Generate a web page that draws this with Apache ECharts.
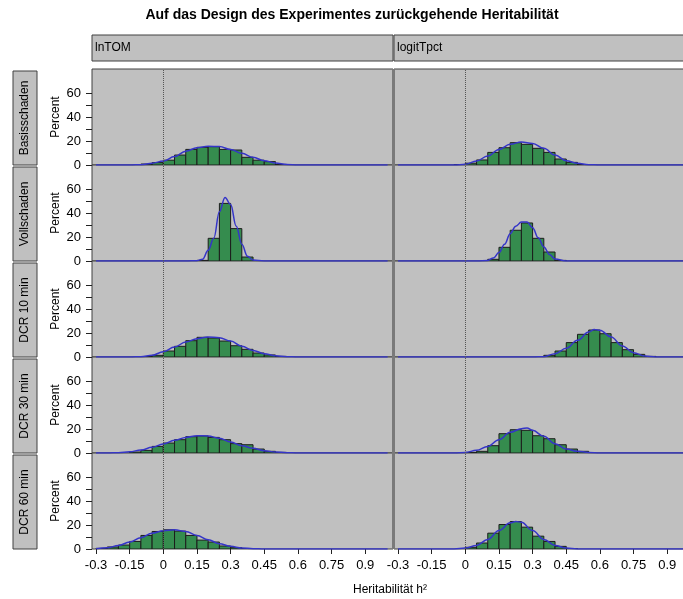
<!DOCTYPE html>
<html>
<head>
<meta charset="utf-8">
<script src="https://cdn.jsdelivr.net/npm/echarts@6/dist/echarts.min.js"></script>
<style>
html, body { margin: 0; padding: 0; background: #fff; }
#main { width: 683px; height: 599px; }
</style>
</head>
<body>
<div id="main"></div>
<script>
var rowNames = ['Basisschaden', 'Vollschaden', 'DCR 10 min', 'DCR 30 min', 'DCR 60 min'];
var colNames = ['lnTOM', 'logitTpct'];
var xTicks = [-0.3, -0.15, 0, 0.15, 0.3, 0.45, 0.6, 0.75, 0.9];
var xLabels = ['-0.3', '-0.15', '0', '0.15', '0.3', '0.45', '0.6', '0.75', '0.9'];
var yTicks = [0, 10, 20, 30, 40, 50, 60];
var yLabels = [0, 20, 40, 60];
var binWidth = 0.05;

// histogram bars: [bin start, percent]
var histBasisLn = [[-0.1,0.8],[-0.05,2],[0,4],[0.05,8.3],[0.1,13],[0.15,14.7],[0.2,15.3],[0.25,13],[0.3,12.5],[0.35,6.4],[0.4,4],[0.45,2.8],[0.5,0.5]];
var histBasisLogit = [[-0.05,0.3],[0,1.5],[0.05,4.2],[0.1,10.5],[0.15,14.4],[0.2,18.6],[0.25,17.2],[0.3,13.9],[0.35,10.5],[0.4,5],[0.45,2.2],[0.5,0.3]];
var histVollLn = [[0.15,0.5],[0.2,18.9],[0.25,48],[0.3,27],[0.35,3.3]];
var histVollLogit = [[0.1,1.4],[0.15,11.4],[0.2,25.6],[0.25,31.7],[0.3,18.9],[0.35,7.5],[0.4,0.5]];
var histDcr10Ln = [[-0.1,0.3],[-0.05,1.4],[0,5],[0.05,8.9],[0.1,13.6],[0.15,16.4],[0.2,15.8],[0.25,13.3],[0.3,9.4],[0.35,6.4],[0.4,3.3],[0.45,1.7],[0.5,0.5]];
var histDcr10Logit = [[0.35,1.4],[0.4,5],[0.45,12],[0.5,18.9],[0.55,22.5],[0.6,19.4],[0.65,12],[0.7,6.1],[0.75,2.2],[0.8,0.5]];
var histDcr30Ln = [[-0.15,0.8],[-0.1,2.2],[-0.05,5.5],[0,8.3],[0.05,11.1],[0.1,13.6],[0.15,14.2],[0.2,13],[0.25,11.1],[0.3,7.8],[0.35,6.9],[0.4,3.3],[0.45,1.4],[0.5,0.5]];
var histDcr30Logit = [[0,0.5],[0.05,1.4],[0.1,6.1],[0.15,16.1],[0.2,19.4],[0.25,18.9],[0.3,14.4],[0.35,11.9],[0.4,6.9],[0.45,3.3],[0.5,1.4]];
var histDcr60Ln = [[-0.3,0.5],[-0.25,1.7],[-0.2,3.3],[-0.15,6.3],[-0.1,11.3],[-0.05,14.6],[0,16],[0.05,14.9],[0.1,11.3],[0.15,7.4],[0.2,5.8],[0.25,2.5],[0.3,1.1],[0.35,0.3]];
var histDcr60Logit = [[0,1.4],[0.05,5],[0.1,13.2],[0.15,20.4],[0.2,22.9],[0.25,18.2],[0.3,10.7],[0.35,6.3],[0.4,2.2],[0.45,0.3]];

// density curves: [x, percent]
var densBasisLn = [[-0.3,0],[-0.15,0],[-0.1,0.3],[-0.05,1.5],[0,3.3],[0.05,7],[0.1,11.5],[0.15,14.4],[0.2,15.6],[0.25,15.4],[0.3,13],[0.35,9.7],[0.4,6.4],[0.45,3.6],[0.5,1.6],[0.55,0.5],[0.6,0],[1.0,0]];
var densBasisLogit = [[-0.3,0],[-0.05,0],[0,0.6],[0.05,3.3],[0.1,7.5],[0.15,13],[0.2,17.2],[0.25,19.2],[0.3,18],[0.35,13.9],[0.4,8.3],[0.45,3.6],[0.5,1.4],[0.55,0.3],[0.6,0],[1.0,0]];
var densVollLn = [[-0.3,0],[0.1,0],[0.15,0.3],[0.175,1.5],[0.2,9],[0.225,19],[0.25,41],[0.275,53],[0.3,47],[0.325,29],[0.35,14],[0.375,4],[0.4,0.8],[0.45,0],[1.0,0]];
var densVollLogit = [[-0.3,0],[0.05,0],[0.1,0.5],[0.125,2.5],[0.15,7],[0.175,14],[0.2,22.8],[0.225,29],[0.25,32.5],[0.275,32.5],[0.3,27.8],[0.325,19.4],[0.35,11.7],[0.375,5.5],[0.4,1.7],[0.45,0],[1.0,0]];
var densDcr10Ln = [[-0.3,0],[-0.15,0],[-0.1,0.3],[-0.05,1.4],[0,4.4],[0.05,8.3],[0.1,12.5],[0.15,15.3],[0.2,16.7],[0.25,16.1],[0.3,13.3],[0.35,8.9],[0.4,5.5],[0.45,2.8],[0.5,1.1],[0.55,0.3],[0.6,0],[1.0,0]];
var densDcr10Logit = [[-0.3,0],[0.3,0],[0.35,0.3],[0.4,2.8],[0.45,7.2],[0.5,13.9],[0.55,20.8],[0.575,23],[0.6,22.2],[0.65,16.7],[0.7,9.2],[0.75,3.6],[0.8,0.8],[0.85,0],[1.0,0]];
var densDcr30Ln = [[-0.3,0],[-0.25,0],[-0.2,0.3],[-0.15,1],[-0.1,2.5],[-0.05,4.7],[0,7.5],[0.05,10.6],[0.1,13],[0.15,14.4],[0.2,14.2],[0.25,12.2],[0.3,9.2],[0.35,6.1],[0.4,3.9],[0.45,1.9],[0.5,0.8],[0.55,0.3],[0.6,0],[1.0,0]];
var densDcr30Logit = [[-0.3,0],[-0.05,0],[0,0.5],[0.05,2.2],[0.1,5.5],[0.15,11.1],[0.2,17.2],[0.25,20.3],[0.275,20.8],[0.3,18.9],[0.35,13.9],[0.4,7.8],[0.45,3.3],[0.5,1.4],[0.55,0.5],[0.6,0],[1.0,0]];
var densDcr60Ln = [[-0.3,0.3],[-0.25,1],[-0.2,3],[-0.15,5.8],[-0.1,9.4],[-0.05,13.2],[0,15.2],[0.05,16],[0.1,14.6],[0.15,11.3],[0.2,7.7],[0.25,4.4],[0.3,2.2],[0.35,0.8],[0.4,0.3],[0.45,0],[1.0,0]];
var densDcr60Logit = [[-0.3,0],[-0.05,0],[0,0.8],[0.05,3],[0.1,8],[0.15,15.4],[0.2,21.8],[0.225,22.9],[0.25,22.3],[0.3,15.4],[0.35,8],[0.4,3],[0.45,0.8],[0.5,0],[1.0,0]];

var hists = [histBasisLn, histBasisLogit, histVollLn, histVollLogit, histDcr10Ln, histDcr10Logit, histDcr30Ln, histDcr30Logit, histDcr60Ln, histDcr60Logit];
var denses = [densBasisLn, densBasisLogit, densVollLn, densVollLogit, densDcr10Ln, densDcr10Logit, densDcr30Ln, densDcr30Logit, densDcr60Ln, densDcr60Logit];

var FONT = 'Liberation Sans, Arial, sans-serif';
var panelTop = 69, panelH = 96, panelW = 301;
var colLeft = [92, 394];

function renderBar(params, api) {
    var x0 = api.value(0);
    var h = api.value(1);
    var p0 = api.coord([x0, h]);
    var p1 = api.coord([x0 + binWidth, 0]);
    return {
        type: 'rect',
        shape: { x: p0[0], y: p0[1], width: p1[0] - p0[0], height: p1[1] - p0[1] },
        style: { fill: '#358C4E', stroke: '#1c1c1c', lineWidth: 1 }
    };
}

var grids = [], xAxes = [], yAxes = [], series = [], graphics = [];

for (var r = 0; r < rowNames.length; r++) {
    for (var c = 0; c < colNames.length; c++) {
        var idx = r * 2 + c;
        var bottom = (r === rowNames.length - 1);
        grids.push({
            left: colLeft[c], top: panelTop + panelH * r, width: panelW, height: panelH,
            show: true, backgroundColor: '#C0C0C0', borderColor: '#404040', borderWidth: 1,
            outerBoundsMode: 'none'
        });
        xAxes.push({
            type: 'value', gridIndex: idx, min: -0.318, max: 1.024, position: 'bottom',
            axisLine: { show: false, onZero: false },
            splitLine: { show: false },
            axisTick: { show: bottom, customValues: xTicks, length: 5, lineStyle: { color: '#222' } },
            axisLabel: {
                show: bottom, customValues: xTicks, margin: 10, fontSize: 13, color: '#000', fontFamily: FONT,
                formatter: function (v) { return xLabels[xTicks.indexOf(v)] !== undefined ? xLabels[xTicks.indexOf(v)] : String(v); }
            }
        });
        yAxes.push({
            type: 'value', gridIndex: idx, min: 0, max: 80, position: 'left',
            axisLine: { show: false, onZero: false },
            splitLine: { show: false },
            axisTick: { show: c === 0, customValues: yTicks, length: 6, lineStyle: { color: '#222' } },
            axisLabel: { show: c === 0, customValues: yLabels, margin: 11, fontSize: 13, color: '#000', fontFamily: FONT },
            name: c === 0 ? 'Percent' : '',
            nameLocation: 'middle', nameGap: 30,
            nameTextStyle: { fontSize: 12, color: '#000', fontFamily: FONT }
        });
        series.push({
            type: 'custom', xAxisIndex: idx, yAxisIndex: idx,
            renderItem: renderBar, data: hists[idx], clip: true
        });
        series.push({
            type: 'line', xAxisIndex: idx, yAxisIndex: idx,
            data: denses[idx], smooth: 0.4, smoothMonotone: 'x', symbol: 'none',
            lineStyle: { color: '#3535C8', width: 1.5 },
            markLine: {
                silent: true, symbol: 'none', label: { show: false },
                lineStyle: { color: '#555', type: 'dotted', width: 1 },
                data: [{ xAxis: 0 }]
            },
            z: 3
        });
    }
    // row strip on the left
    graphics.push({
        type: 'rect', shape: { x: 13, y: panelTop + panelH * r + 2, width: 24, height: panelH - 2 },
        style: { fill: '#C0C0C0', stroke: '#404040', lineWidth: 1 }
    });
    graphics.push({
        type: 'text', x: 25, y: panelTop + panelH * r + 1 + panelH / 2, rotation: Math.PI / 2,
        style: { text: rowNames[r], fontSize: 12, fontFamily: FONT, fill: '#000', textAlign: 'center', textVerticalAlign: 'middle' }
    });
}

// column headers
for (var k = 0; k < colNames.length; k++) {
    graphics.push({
        type: 'rect', shape: { x: colLeft[k], y: 35, width: panelW, height: 26 },
        style: { fill: '#C0C0C0', stroke: '#404040', lineWidth: 1 }
    });
    graphics.push({
        type: 'text', x: colLeft[k] + 3, y: 48,
        style: { text: colNames[k], fontSize: 12, fontFamily: FONT, fill: '#000', textAlign: 'left', textVerticalAlign: 'middle' }
    });
}

// column separator
graphics.push({
    type: 'rect', shape: { x: 392, y: panelTop, width: 3, height: panelH * 5 },
    style: { fill: '#7a7a7a' }, z: 100
});

graphics.push({
    type: 'text', x: 352, y: 15,
    style: { text: 'Auf das Design des Experimentes zurückgehende Heritabilität', fontSize: 14, fontWeight: 'bold', fontFamily: FONT, fill: '#000', textAlign: 'center', textVerticalAlign: 'middle' }
});
graphics.push({
    type: 'text', x: 390, y: 590,
    style: { text: 'Heritabilität h²', fontSize: 12, fontFamily: FONT, fill: '#000', textAlign: 'center', textVerticalAlign: 'middle' }
});

var chart = echarts.init(document.getElementById('main'), null, { renderer: 'canvas' });
chart.setOption({
    animation: false,
    backgroundColor: '#fff',
    grid: grids,
    xAxis: xAxes,
    yAxis: yAxes,
    series: series,
    graphic: graphics
});
</script>
</body>
</html>
